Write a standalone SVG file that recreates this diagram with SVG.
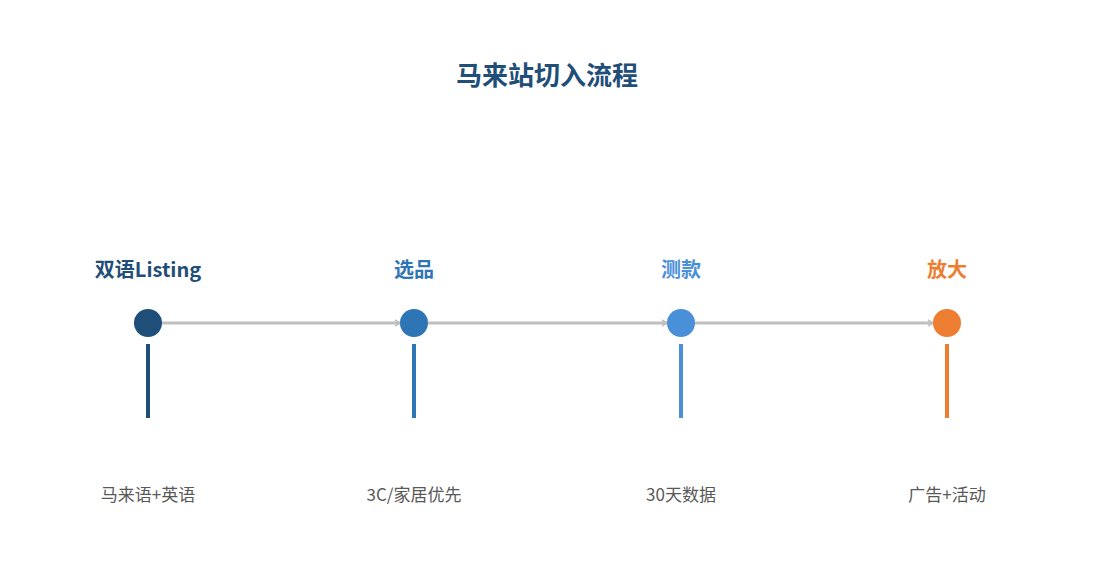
<svg xmlns="http://www.w3.org/2000/svg" width="1095" height="585" viewBox="0 0 1095 585">
<defs>
<style>
.t{font-family:"Noto Sans CJK SC","Liberation Sans",sans-serif;font-weight:bold;font-size:20px;text-anchor:middle}
.d{font-family:"Noto Sans CJK SC","Liberation Sans",sans-serif;font-size:17px;fill:#595959;text-anchor:middle}
.c{stroke:#bfbfbf;stroke-width:3;fill:none;marker-end:url(#a)}
</style>
<marker id="a" markerWidth="8" markerHeight="8" refX="6" refY="4" orient="auto" markerUnits="userSpaceOnUse"><path d="M1,1 L6,4 L1,7" fill="none" stroke="#bfbfbf" stroke-width="1.5"/></marker>
</defs>
<rect width="1095" height="585" fill="#fff"/>
<text x="547" y="85" class="t" style="font-size:26px" fill="#1f4e79">马来站切入流程</text>
<g id="connectors">
<line class="c" x1="162" y1="323" x2="400" y2="323"/>
<line class="c" x1="428" y1="323" x2="667" y2="323"/>
<line class="c" x1="695" y1="323" x2="933" y2="323"/>
</g>
<g id="n1"><text x="148" y="277" class="t" fill="#1f4e79">双语Listing</text><circle cx="148" cy="323" r="14" fill="#1f4e79"/><line x1="148" y1="344" x2="148" y2="418" stroke="#1f4e79" stroke-width="4"/><text x="148" y="501" class="d">马来语+英语</text></g>
<g id="n2"><text x="414" y="277" class="t" fill="#2e75b6">选品</text><circle cx="414" cy="323" r="14" fill="#2e75b6"/><line x1="414" y1="344" x2="414" y2="418" stroke="#2e75b6" stroke-width="4"/><text x="414" y="501" class="d">3C/家居优先</text></g>
<g id="n3"><text x="681" y="277" class="t" fill="#4a90d9">测款</text><circle cx="681" cy="323" r="14" fill="#4a90d9"/><line x1="681" y1="344" x2="681" y2="418" stroke="#4a90d9" stroke-width="4"/><text x="681" y="501" class="d">30天数据</text></g>
<g id="n4"><text x="947" y="277" class="t" fill="#ed7d31">放大</text><circle cx="947" cy="323" r="14" fill="#ed7d31"/><line x1="947" y1="344" x2="947" y2="418" stroke="#ed7d31" stroke-width="4"/><text x="947" y="501" class="d">广告+活动</text></g>
</svg>
